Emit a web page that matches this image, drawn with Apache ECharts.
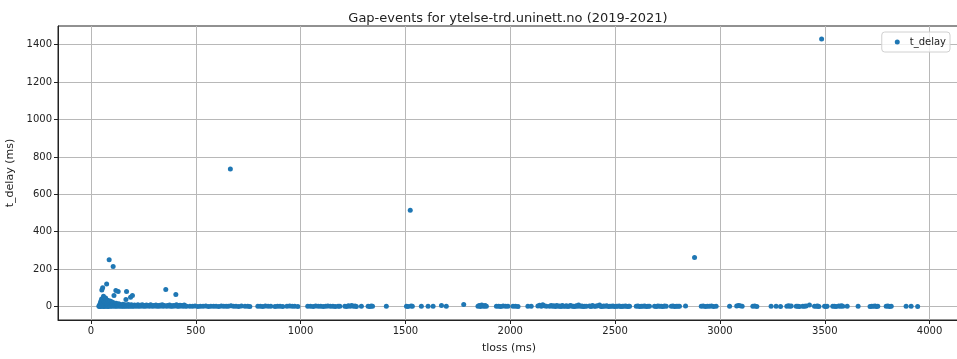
<!DOCTYPE html>
<html>
<head>
<meta charset="utf-8">
<script src="https://cdn.jsdelivr.net/npm/echarts@6/dist/echarts.min.js"></script>
<style>html,body{margin:0;padding:0;background:#fff;}#chart{width:957px;height:359px;}</style>
</head>
<body>
<div id="chart"></div>
<script>
const chartTitle = 'Gap-events for ytelse-trd.uninett.no (2019-2021)';
const seriesName = 't_delay';
const xTicks = [0, 500, 1000, 1500, 2000, 2500, 3000, 3500, 4000];
const yTicks = [0, 200, 400, 600, 800, 1000, 1200, 1400];

// [tloss (ms), t_delay (ms)] — dense low-tloss cluster
const clusterLow = [
 [38,2],[40,5],[42,0],[43,8],[44,15],[45,3],[46,22],[47,1],[48,30],[49,6],[50,12],[51,40],[52,89],[53,2],[54,18],[55,26],[56,100],[57,4],[58,35],[59,9],[60,55],[61,0],[62,14],[63,28],[64,3],[65,44],[66,7],[67,20],[68,1],[70,46],[71,10],[72,3],[73,25],[75,121],[76,6],[77,16],[78,2],[80,33],[81,8],[82,0],[84,12],[85,22],[87,250],[88,4],[90,9],[91,30],[93,2],[95,15],[97,5],[99,26],[100,1],[102,11],[104,7],[106,214],[107,3],[108,20],[110,59],[111,6],[112,13],[114,2],[116,9],[118,4],[119,86],[120,18],[122,1],[124,7],[126,12],[128,3],[130,80],[131,5],[133,15],[135,2],[137,8],[140,4],[142,10],[145,1],[147,6],[150,3],[153,12],[155,2],[158,7],[160,4],[163,1],[165,9],[167,37],[168,3],[170,80],[172,6],[175,2],[178,11],[180,4],[183,1],[186,7],[189,50],[190,3],[193,9],[196,2],[198,59],[200,5],[204,1],[208,8],[212,3],[216,6],[220,2],[224,9],[228,4],[232,1],[236,7],[240,3],[245,10],[250,2],[255,5],[260,1],[265,8],[270,3],[275,6],[280,2],[285,9],[290,4],[295,1],[300,6],[305,3],[310,8],[315,2],[320,5],[325,1],[330,7],[335,3],[340,9],[345,2],[350,5],[357,91],[360,1],[365,6],[370,3],[375,8],[380,2],[385,4],[390,1],[395,6],[400,3],[405,64],[408,9],[412,2],[416,5],[420,1],[425,7],[430,3],[435,5],[440,2],[445,8],[450,3],[456,1]
];
const clusterMid = [
 [472,2],[485,1],[497,3],[510,0],[522,2],[535,1],[548,3],[560,0],[572,2],[585,1],[597,2],[610,0],[622,3],[633,1],[645,2],[655,1],[665,735],[668,4],[680,1],[692,2],[705,0],[718,3],[735,1],[748,2],[758,0],
 [796,2],[808,1],[820,0],[832,3],[845,1],[858,2],[878,0],[890,1],[902,2],[915,0],[935,1],[948,3],[960,1],[972,2],[987,0],
 [1034,1],[1047,2],[1060,0],[1072,3],[1084,1],[1096,2],[1108,0],[1120,1],[1130,3],[1142,1],[1154,2],[1165,0],[1179,2],[1187,1],
 [1211,2],[1220,0],[1228,4],[1236,1],[1244,5],[1252,2],[1260,3],[1266,0],[1290,1],[1322,2],[1330,0],[1337,3],[1343,1],[1409,1],
 [1505,2],[1512,0],[1523,515],[1527,3],[1533,1],[1576,2],[1608,1],[1632,2],[1672,6],[1695,1],[1778,11],
 [1846,2],[1852,5],[1858,0],[1864,8],[1870,3],[1876,1],[1880,6],[1886,2],[1934,1],[1945,2],[1955,0],[1966,3],[1978,1],[1989,2],
 [2013,1],[2025,2],[2037,0],[2084,2],[2100,1]
];
const clusterHigh = [
 [2132,3],[2140,7],[2148,2],[2155,9],[2162,4],[2172,1],
 [2188,2],[2195,5],[2202,1],[2208,4],[2215,0],[2222,6],[2228,2],[2235,3],[2242,0],[2248,5],[2255,2],[2262,1],[2268,4],[2275,0],[2282,3],[2288,6],[2295,1],[2302,2],[2308,0],[2315,4],[2322,2],[2326,8],[2335,1],[2342,3],[2348,0],[2355,2],[2363,1],
 [2378,3],[2385,0],[2392,5],[2400,1],[2408,2],[2415,4],[2426,8],[2430,2],[2437,0],[2445,3],[2452,1],[2460,4],[2468,0],[2475,2],[2482,1],[2490,3],[2497,0],[2505,2],[2512,1],[2520,3],[2528,0],[2535,2],[2542,1],[2550,3],[2558,0],[2565,2],[2569,1],
 [2601,1],[2609,3],[2617,0],[2625,2],[2633,1],[2641,3],[2649,0],[2657,2],[2664,1],
 [2688,2],[2696,0],[2704,3],[2712,1],[2720,2],[2728,0],[2736,3],[2744,1],
 [2768,1],[2776,3],[2784,0],[2792,2],[2800,1],[2807,2],[2836,3],[2879,262],
 [2911,1],[2920,3],[2930,0],[2940,2],[2950,1],[2960,3],[2970,0],[2982,2],
 [3046,1],[3080,3],[3088,6],[3096,4],[3106,2],[3157,1],[3166,3],[3176,0],[3244,1],[3268,2],[3289,0],
 [3319,2],[3327,4],[3334,1],[3340,3],[3364,1],[3372,2],[3379,0],[3395,2],[3403,1],[3411,3],[3427,8],
 [3451,2],[3460,1],[3466,3],[3472,0],[3485,1430],[3499,2],[3505,0],[3511,1],[3538,2],[3546,1],[3554,0],
 [3567,3],[3574,1],[3580,4],[3586,2],[3607,1],[3659,2],[3716,0],[3724,2],[3732,1],[3740,3],[3747,0],[3753,2],
 [3793,1],[3801,3],[3809,0],[3817,2],[3888,1],[3912,2],[3943,0]
];
const gapEvents = clusterLow.concat(clusterMid, clusterHigh);

const FONT = 'DejaVu Sans';
const TXT = '#222';
const plain = v => String(v);
const chart = echarts.init(document.getElementById('chart'), null, {renderer: 'canvas'});
chart.setOption({
  animation: false,
  backgroundColor: '#fff',
  textStyle: {fontFamily: FONT},
  title: {
    text: chartTitle, left: 503, top: 7, textAlign: 'center',
    textStyle: {fontFamily: FONT, fontSize: 13, fontWeight: 'normal', color: TXT}
  },
  legend: {
    data: [{name: seriesName, icon: 'circle'}],
    right: 7, top: 32, orient: 'vertical',
    itemWidth: 15, itemHeight: 5,
    padding: [5, 4, 5, 13],
    borderColor: '#d0d0d0', borderWidth: 1, borderRadius: 3,
    backgroundColor: 'rgba(255,255,255,0.8)',
    textStyle: {fontFamily: FONT, fontSize: 10, color: TXT}
  },
  grid: {left: 58, right: -3, top: 26, bottom: 39, containLabel: false, outerBoundsMode: 'none',
         show: true, borderColor: '#222', borderWidth: 1, backgroundColor: 'transparent'},
  xAxis: {
    type: 'value', min: -157, max: 4145,
    name: 'tloss (ms)', nameLocation: 'middle', nameGap: 23,
    nameTextStyle: {fontFamily: FONT, fontSize: 11, color: TXT},
    axisLine: {show: true, onZero: false, lineStyle: {color: '#222', width: 1}},
    axisTick: {show: true, length: 4, customValues: xTicks, lineStyle: {color: '#222'}},
    axisLabel: {customValues: xTicks, formatter: plain, fontFamily: FONT, fontSize: 10, color: TXT, margin: 6},
    splitLine: {show: true, lineStyle: {color: '#b8b8b8', width: 1}}
  },
  yAxis: {
    type: 'value', min: -72, max: 1500,
    name: 't_delay (ms)', nameLocation: 'middle', nameGap: 35, nameRotate: 90,
    nameTextStyle: {fontFamily: FONT, fontSize: 11, color: TXT},
    axisLine: {show: true, onZero: false, lineStyle: {color: '#222', width: 1}},
    axisTick: {show: true, length: 4, customValues: yTicks, lineStyle: {color: '#222'}},
    axisLabel: {customValues: yTicks, formatter: plain, fontFamily: FONT, fontSize: 10, color: TXT, margin: 6},
    splitLine: {show: true, lineStyle: {color: '#b8b8b8', width: 1}}
  },
  series: [{
    name: seriesName, type: 'scatter', symbol: 'circle', symbolSize: 5,
    itemStyle: {color: '#1f77b4', opacity: 1},
    data: gapEvents
  }]
});
</script>
</body>
</html>
